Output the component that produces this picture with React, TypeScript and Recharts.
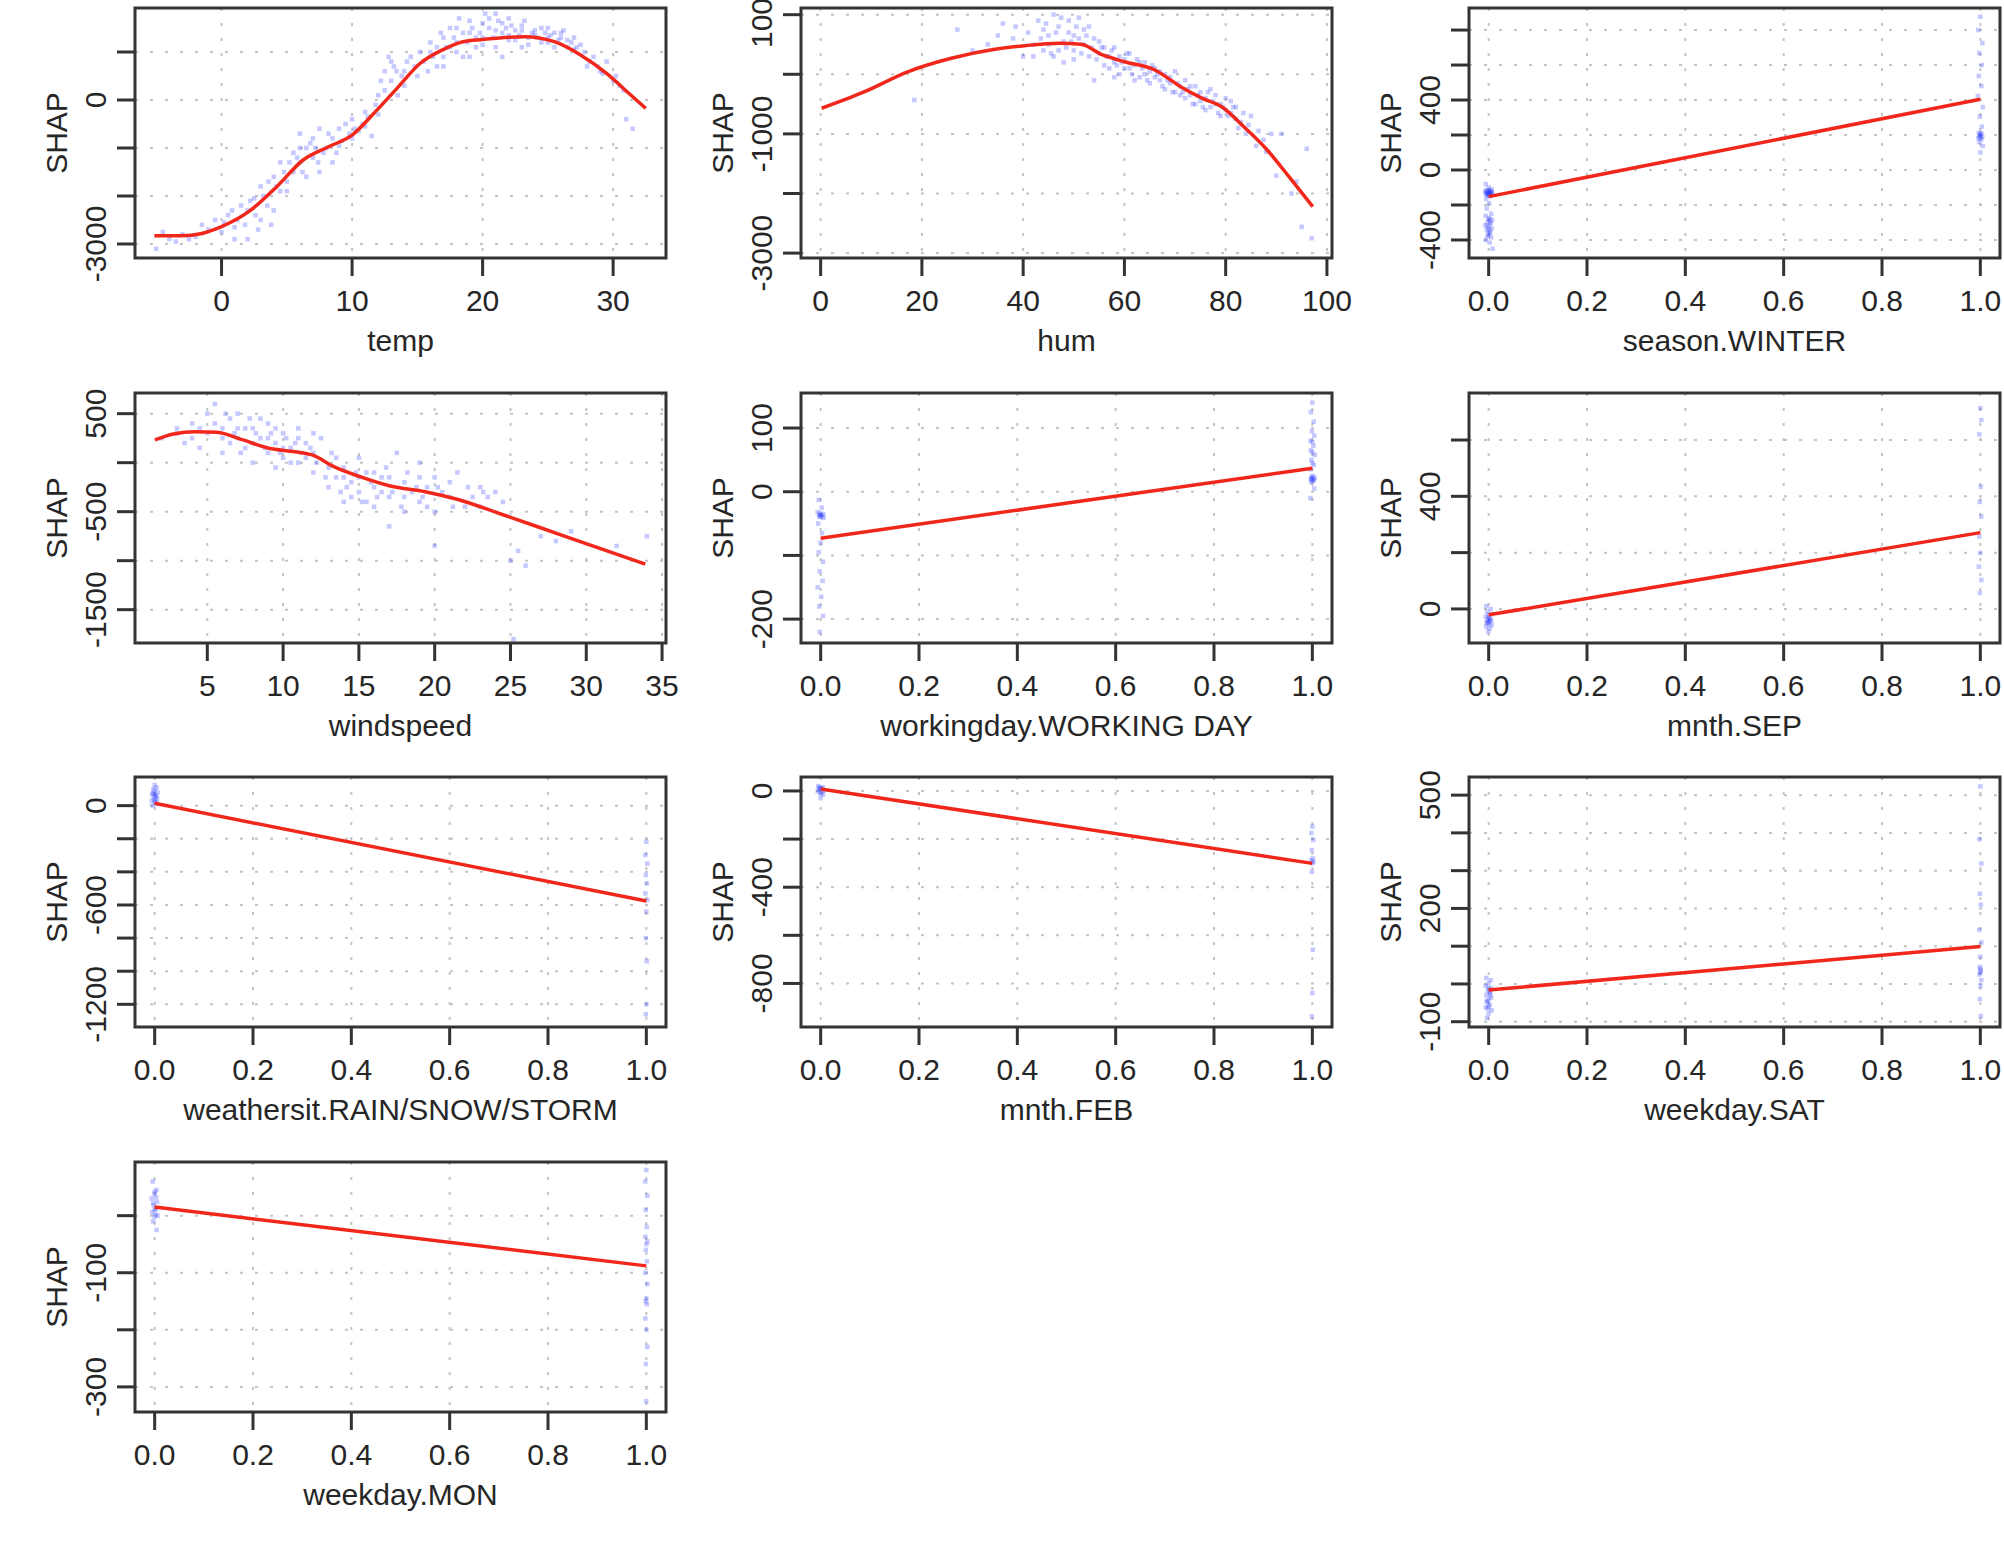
import { CartesianGrid, ComposedChart, ReferenceArea, Scatter, XAxis, YAxis } from 'recharts';

type Pt = [number, number];

// ---- temp ----
const tempXTicks = [0, 10, 20, 30];
const tempYTicks = [-3000, -2000, -1000, 0, 1000];
const tempYLabels = [-3000, 0];
const tempCurve: Pt[] = [
  [-5.15, -2830], [-3.1, -2830], [-1.5, -2780], [0, -2640], [2.26, -2290], [4.25, -1800],
  [6.25, -1250], [8.24, -970], [10, -730], [11.9, -210], [13.56, 280], [15.2, 760],
  [16.9, 1040], [18.5, 1215], [20, 1260], [23.2, 1320], [25.5, 1215], [27.5, 940],
  [29.5, 555], [31.2, 140], [32.5, -175],
];
const tempPoints: Pt[] = [
  [-5, -3100], [-4.5, -2750], [-4, -2900], [-3.5, -2950], [-3, -2800], [-2.5, -2900], [-2, -2850],
  [-1.5, -2600], [-1, -2700], [-0.5, -2500], [0, -2750], [0.2, -2550], [0.5, -2400], [0.8, -2300],
  [1, -2650], [1, -2900], [1.2, -2500], [1.5, -2200], [1.8, -2600], [2, -2900], [2, -2300],
  [2.2, -2100], [2.5, -2050], [2.6, -2400], [2.8, -2700], [3, -2500], [3, -1800], [3.2, -2000],
  [3.5, -2200], [3.6, -1700], [3.8, -2600], [4, -1600], [4, -2300], [4.2, -1800], [4.5, -1900],
  [4.5, -1300], [4.8, -1500], [5, -1700], [5, -1900], [5.2, -1300], [5.5, -1100], [5.5, -1500],
  [5.8, -1200], [6, -700], [6, -1300], [6, -1000], [6.2, -1500], [6.5, -1000], [6.5, -1600],
  [6.8, -900], [7, -800], [7, -1200], [7.2, -1000], [7.4, -1300], [7.5, -1500], [7.5, -600],
  [7.8, -1100], [8, -1000], [8.2, -700], [8.5, -800], [8.5, -1300], [8.8, -1100], [9, -600],
  [9, -950], [9.2, -850], [9.5, -500], [9.8, -700], [10, -800], [10, -400], [10.2, -600],
  [10.5, -650], [10.8, -500], [11, -250], [11, -550], [11.2, -350], [11.5, -750], [11.8, -100],
  [12, -300], [12, 100], [12.2, 400], [12.5, 600], [12.5, 200], [12.8, 900], [13, 400], [13, 800],
  [13.2, 700], [13.4, 600], [13.5, 100], [13.8, 500], [14, 600], [14, 300], [14.2, 800],
  [14.5, 900], [14.8, 700], [15, 500], [15.2, 1000], [15.5, 800], [15.8, 600], [16, 1000],
  [16, 1200], [16.2, 900], [16.5, 700], [16.5, 1100], [16.8, 1400], [17, 1300], [17, 900],
  [17, 700], [17.2, 1100], [17.5, 1100], [17.5, 1500], [17.8, 1300], [18, 1500], [18, 1200],
  [18, 1000], [18.2, 1700], [18.5, 900], [18.5, 1400], [18.8, 1200], [19, 1400], [19, 1650],
  [19, 900], [19.2, 1500], [19.5, 1100], [19.5, 1300], [19.8, 1400], [20, 1600], [20, 1300],
  [20, 1150], [20.2, 1800], [20.5, 1500], [20.5, 1700], [20.8, 1300], [21, 1800], [21, 1100],
  [21, 1450], [21.2, 1650], [21.5, 1400], [21.5, 1600], [21.5, 900], [21.8, 1500], [22, 1700],
  [22, 1250], [22, 1350], [22.2, 1550], [22.5, 1450], [22.5, 1250], [22.8, 1350], [23, 1100],
  [23, 1550], [23, 1450], [23.2, 1650], [23.5, 1300], [23.5, 1150], [23.8, 1400], [24, 1450],
  [24, 1350], [24.2, 1300], [24.5, 1200], [24.5, 1500], [24.8, 1400], [25, 1500], [25, 1300],
  [25, 1200], [25.2, 1350], [25.5, 1100], [25.5, 1400], [25.8, 1250], [26, 1400], [26, 1300],
  [26.2, 1450], [26.5, 1250], [26.5, 1100], [26.8, 1200], [27, 1050], [27, 1300], [27.2, 1100],
  [27.5, 1150], [27.8, 1000], [28, 700], [28.2, 800], [28.5, 900], [28.8, 700], [29, 600],
  [29.2, 550], [29.5, 800], [30, 400], [30.2, 500], [30.5, 300], [30.8, 200], [31, -400],
  [31.5, -600],
];

// ---- hum ----
const humXTicks = [0, 20, 40, 60, 80, 100];
const humYTicks = [-3000, -2000, -1000, 0, 1000];
const humYLabels = [-3000, -1000, 1000];
const humCurve: Pt[] = [
  [0.2, -570], [8.7, -292], [17.3, 44], [25.8, 268], [34.4, 419], [40.3, 480], [47.2, 520],
  [51.4, 503], [55.7, 324], [60, 211], [66, 72], [71.1, -208], [75.4, -403], [79.2, -544],
  [83.9, -906], [88.2, -1270], [92.5, -1718], [97.2, -2221],
];
const humPoints: Pt[] = [
  [18.5, -430], [27, 750], [30, 400], [33, 500], [35, 650], [36, 850], [38, 600], [38.5, 800],
  [40, 300], [41, 700], [42, 500], [42, 300], [43, 900], [43.5, 600], [44, 400], [44, 750],
  [44.5, 850], [45, 650], [45, 500], [45.5, 350], [46, 1000], [46, 300], [46.5, 700], [47, 800],
  [47, 400], [47.5, 950], [48, 550], [48, 200], [48.5, 450], [49, 900], [49, 700], [49.5, 550],
  [50, 650], [50, 400], [50, 250], [50.5, 800], [51, 950], [51, 600], [51.5, 350], [52, 500],
  [52, 750], [52.5, 650], [53, 300], [53, 800], [53.5, 450], [54, 600], [54, -100], [54.5, 250],
  [55, 350], [55, 550], [55.5, 450], [56, 450], [56, 150], [56.5, 300], [57, 300], [57, 100],
  [57.5, 400], [58, 200], [58, 450], [58, -50], [58.5, 150], [59, 0], [59, 300], [59.5, 200],
  [60, 250], [60, 100], [60.5, 350], [61, 100], [61, 350], [61.5, 0], [62, 150], [62, -100],
  [62.5, 250], [63, -50], [63, 200], [63.5, 100], [64, 200], [64, 0], [64.5, -100], [65, 50],
  [65, -150], [65.5, 150], [66, 100], [66, -50], [66.5, 0], [67, -100], [67, 50], [67.5, -200],
  [68, 0], [68, -250], [68.5, -100], [69, -150], [69, -50], [69.5, -300], [70, -300], [70, 50],
  [70.5, -150], [71, -200], [71, -350], [71.5, -300], [72, -400], [72, -100], [72.5, -250],
  [73, -350], [73, -200], [73.5, -500], [74, -500], [74, -200], [74.5, -350], [75, -300],
  [75, -450], [75.5, -550], [76, -600], [76, -400], [76.5, -300], [77, -250], [77, -550],
  [77.5, -450], [78, -500], [78, -350], [78.5, -650], [79, -700], [79, -500], [79.5, -550],
  [80, -400], [80, -600], [80.5, -700], [81, -650], [81, -450], [81.5, -550], [82, -550],
  [82, -750], [82.5, -900], [83, -800], [83.5, -650], [84, -1000], [84.5, -850], [85, -700],
  [86, -1200], [86.5, -950], [87.5, -1100], [88, -1300], [89, -1000], [90, -1700], [91, -1000],
  [93, -2000], [94, -1800], [95, -2560], [96, -1250], [97, -2750],
];

// ---- season.WINTER ----
const binXTicks = [0, 0.2, 0.4, 0.6, 0.8, 1];
const winterYTicks = [-400, -200, 0, 200, 400, 600, 800];
const winterYLabels = [-400, 0, 400];
const winterCurve: Pt[] = [[0, -152], [1, 404]];
const winterPoints: Pt[] = [
  [-0.006, -80], [0, -100], [0.006, -110], [-0.004, -115], [0.003, -120], [-0.007, -122],
  [0.007, -125], [0, -128], [-0.003, -130], [0.005, -132], [-0.006, -135], [0.002, -138],
  [0.006, -140], [-0.002, -145], [0.004, -150], [0, -120], [0.003, -125], [-0.003, -140],
  [0, -135], [0.004, -130], [-0.004, -128], [0, -145], [-0.005, -165], [0.001, -190],
  [-0.004, -220], [0.005, -250], [-0.006, -262], [0.002, -275], [0.007, -285], [-0.002, -295],
  [0.004, -305], [-0.007, -315], [0.001, -325], [0.006, -335], [-0.004, -345], [0.003, -355],
  [-0.001, -370], [0.005, -385], [-0.006, -400], [0.002, -415], [0, -280], [0.003, -300],
  [-0.003, -320], [0, -340], [0.002, -360], [-0.002, -380], [0.008, -450],
  [1.0, 876], [0.996, 800], [1.004, 726], [0.998, 669], [1.003, 600], [0.997, 537], [1.002, 480],
  [0.995, 423], [1.005, 360], [0.999, 305], [1.003, 248], [0.997, 212], [1.0, 200], [1.004, 190],
  [0.996, 182], [1.002, 175], [0.998, 160], [1.0, 205], [0.998, 195], [1.002, 210],
  [1.0, 185], [1.005, 137], [1.0, 100],
];

// ---- windspeed ----
const windXTicks = [5, 10, 15, 20, 25, 30, 35];
const windYTicks = [-1500, -1000, -500, 0, 500];
const windYLabels = [-1500, -500, 500];
const windCurve: Pt[] = [
  [1.54, 232], [2.77, 293], [4.2, 316], [5.63, 310], [7.35, 232], [9.06, 147], [10.78, 112],
  [11.92, 79], [13.35, -41], [15.07, -143], [17.07, -238], [19.36, -296], [21.65, -381],
  [24.22, -516], [27.08, -669], [29.94, -823], [33.89, -1034],
];
const windPoints: Pt[] = [
  [2, 250], [3, 350], [3, 300], [3.5, 200], [4, 400], [4, 250], [4.5, 150], [4.5, 350], [5, 500],
  [5, 300], [5.5, 600], [5.5, 400], [6, 350], [6, 100], [6, 250], [6.2, 500], [6.5, 450],
  [6.5, 200], [6.8, 300], [7, 250], [7, 500], [7, 350], [7.2, 100], [7.5, 150], [7.5, 350],
  [7.8, 450], [8, 350], [8, 0], [8, 200], [8.2, 300], [8.5, 250], [8.5, 450], [8.8, 150],
  [9, 400], [9, 100], [9, 250], [9.2, 300], [9.5, 200], [9.5, -50], [9.5, 350], [9.8, 100],
  [10, 300], [10, 50], [10, 150], [10.2, 250], [10.5, 150], [10.5, 0], [10.8, 200], [11, 350],
  [11, 0], [11, 250], [11.2, 100], [11.5, 200], [11.5, 50], [11.8, 150], [12, 100], [12, -100],
  [12, 300], [12.2, 0], [12.5, 250], [12.8, -150], [13, -50], [13, -250], [13.2, 100],
  [13.5, 50], [13.5, -150], [13.8, -300], [14, -150], [14, -400], [14, -50], [14.2, -250],
  [14.5, -200], [14.5, -350], [14.8, -100], [15, 50], [15, -300], [15, -150], [15.2, -400],
  [15.5, -100], [15.5, -400], [15.8, -200], [16, -250], [16, -450], [16, -100], [16.2, -350],
  [16.5, -150], [16.5, -300], [16.8, -50], [17, -350], [17, -650], [17, -150], [17.2, -300],
  [17.5, 100], [17.8, -450], [18, -200], [18, -500], [18, -350], [18.2, -100], [18.5, -300],
  [18.8, -250], [19, 0], [19, -400], [19, -150], [19.2, -350], [19.5, -250], [19.5, -450],
  [20, -150], [20, -500], [20, -850], [20.2, -250], [20.5, -300], [21, -350], [21, -200],
  [21.2, -450], [21.5, -100], [22, -450], [22.2, -250], [22.5, -350], [23, -250], [23, -450],
  [23.2, -300], [23.5, -350], [24, -300], [24.5, -400], [25, -1000], [25.2, -1800], [25.5, -900],
  [26, -1050], [27, -750], [28, -800], [29, -700], [32, -850], [34, -750],
];

// ---- workingday.WORKING DAY ----
const workYTicks = [-200, -100, 0, 100];
const workYLabels = [-200, 0, 100];
const workCurve: Pt[] = [[0, -73], [1, 37]];
const workPoints: Pt[] = [
  [-0.004, -13], [0.002, -25], [-0.006, -32], [0.005, -35], [0, -37], [-0.003, -39], [0.006, -41],
  [0, -34], [0.003, -38], [-0.003, -36], [0, -40], [-0.005, -50], [0.003, -65], [0, -80],
  [-0.004, -95], [0.005, -110], [-0.002, -125], [0.004, -140], [-0.006, -150], [0.001, -165],
  [-0.003, -180], [0.005, -195], [-0.002, -220],
  [0.996, -10], [1.004, 5], [0.998, 15], [1.003, 18], [0.997, 20], [1.005, 22], [1.0, 25],
  [1.0, 17], [1.002, 19], [0.998, 21], [1.0, 23], [0.996, 35], [1.003, 42], [0.998, 50],
  [1.005, 58], [0.997, 65], [1.002, 72], [0.996, 80], [1.004, 88], [0.999, 95], [1.0, 45],
  [1.0, 62], [1.0, 78], [1.003, 110], [0.997, 125], [1.0, 140],
];

// ---- mnth.SEP ----
const sepYTicks = [0, 200, 400, 600];
const sepYLabels = [0, 400];
const sepCurve: Pt[] = [[0, -21], [1, 271]];
const sepPoints: Pt[] = [
  [-0.005, 10], [0.004, 0], [-0.003, -10], [0.006, -18], [0, -22], [-0.006, -28], [0.003, -33],
  [-0.002, -38], [0.005, -43], [-0.004, -48], [0.001, -53], [0.006, -58], [-0.005, -63],
  [0, -30], [0.003, -40], [-0.003, -50], [0, -45], [0.002, -70], [-0.001, -80],
  [1.0, 713], [1.002, 671], [0.998, 620], [1.001, 434], [0.999, 380], [1.002, 328], [0.998, 257],
  [1.0, 199], [0.997, 150], [1.002, 103], [0.999, 57],
];

// ---- weathersit.RAIN/SNOW/STORM ----
const weatherYTicks = [-1200, -1000, -800, -600, -400, -200, 0];
const weatherYLabels = [-1200, -600, 0];
const weatherCurve: Pt[] = [[0, 14], [1, -576]];
const weatherPoints: Pt[] = [
  [-0.004, 0], [0.004, 10], [0, 20], [-0.006, 30], [0.005, 40], [-0.002, 50], [0.003, 60],
  [-0.005, 70], [0.006, 80], [0, 90], [-0.003, 100], [0.004, 110], [0, 125], [0, 35],
  [0.003, 55], [-0.003, 75], [0, 65], [0.002, 25],
  [1.0, -218], [0.998, -298], [1.002, -350], [0.999, -419], [1.001, -470], [0.998, -530],
  [1.002, -570], [1.0, -640], [0.999, -800], [1.001, -940], [1.0, -1200], [0.999, -1260],
];

// ---- mnth.FEB ----
const febYTicks = [-800, -600, -400, -200, 0];
const febYLabels = [-800, -400, 0];
const febCurve: Pt[] = [[0, 8], [1, -301]];
const febPoints: Pt[] = [
  [-0.005, 20], [0.004, 15], [0, 10], [-0.003, 5], [0.006, 2], [-0.006, -2], [0.002, -6],
  [-0.001, -10], [0.005, -15], [0, 12], [0.003, 8], [-0.003, 14], [0, -30],
  [1.0, -148], [0.998, -175], [1.002, -204], [0.999, -246], [1.001, -280], [0.998, -288],
  [1.002, -295], [1.0, -300], [0.999, -336], [1.001, -660], [1.0, -840], [0.999, -937],
];

// ---- weekday.SAT ----
const satYTicks = [-100, 0, 100, 200, 300, 400, 500];
const satYLabels = [-100, 200, 500];
const satCurve: Pt[] = [[0, -16], [1, 99]];
const satPoints: Pt[] = [
  [-0.005, 16], [0.004, 10], [0, 2], [-0.006, -5], [0.006, -12], [-0.002, -18], [0.003, -24],
  [-0.005, -30], [0.005, -36], [0, -42], [-0.004, -48], [0.002, -55], [-0.006, -62],
  [0.006, -70], [0, -78], [0, -10], [0.003, -30], [-0.003, -45], [0, -60], [0.002, -20],
  [-0.002, -65], [-0.003, -90],
  [1.0, 523], [0.998, 383], [1.002, 319], [0.999, 239], [1.001, 210], [0.998, 143], [1.002, 110],
  [1.0, 72], [0.999, 45], [1.001, 35], [0.998, 25], [1.002, 10], [1.0, 30], [1.0, 40],
  [1.0, -5], [0.999, -40], [1.001, -85],
];

// ---- weekday.MON ----
const monYTicks = [-300, -200, -100, 0];
const monYLabels = [-300, -100];
const monCurve: Pt[] = [[0, 15], [1, -88]];
const monPoints: Pt[] = [
  [-0.004, 60], [0.004, 45], [0, 38], [-0.006, 30], [0.005, 24], [-0.002, 18], [0.003, 12],
  [-0.005, 6], [0.006, 0], [0, -2], [0, 42], [0.003, 32], [-0.003, 22], [0, 10],
  [0.002, 2], [-0.003, -10], [0.004, -25],
  [1.0, 80], [0.998, 60], [1.002, 35], [0.999, 10], [1.001, -20], [0.998, -37], [1.002, -45],
  [1.0, -50], [0.999, -60], [1.001, -80], [0.998, -100], [1.002, -120], [1.0, -145],
  [0.999, -150], [1.001, -155], [0.998, -180], [1.0, -200], [1.002, -230], [0.999, -260],
  [1.0, -325],
];

const FONT = '"Liberation Sans", Arial, Helvetica, sans-serif';
const INK = '#262626';
const BOX_LEFT = [135, 801, 1469];
const BOX_TOP = [8, 393, 777, 1162];
const BOX_W = 531;
const BOX_H = 250;
const Y_AREA = 135;
const X_AREA = 110;
const TOP_PAD = 8;

const intFmt = (v: number) => String(v);
const decFmt = (v: number) => v.toFixed(1);
const BIN_X: [number, number] = [-0.04, 1.04];

const panels = [
  { name: 'temp', col: 0, row: 0, xDomain: [-6.63, 34.05], yDomain: [-3292, 1917], xTicks: tempXTicks, yTicks: tempYTicks, yLabels: tempYLabels, points: tempPoints, curve: tempCurve, fmt: intFmt },
  { name: 'hum', col: 1, row: 0, xDomain: [-3.88, 101.0], yDomain: [-3082, 1112], xTicks: humXTicks, yTicks: humYTicks, yLabels: humYLabels, points: humPoints, curve: humCurve, fmt: intFmt },
  { name: 'season.WINTER', col: 2, row: 0, xDomain: BIN_X, yDomain: [-503, 926], xTicks: binXTicks, yTicks: winterYTicks, yLabels: winterYLabels, points: winterPoints, curve: winterCurve, fmt: decFmt },
  { name: 'windspeed', col: 0, row: 1, xDomain: [0.23, 35.26], yDomain: [-1840, 711], xTicks: windXTicks, yTicks: windYTicks, yLabels: windYLabels, points: windPoints, curve: windCurve, fmt: intFmt },
  { name: 'workingday.WORKING DAY', col: 1, row: 1, xDomain: BIN_X, yDomain: [-237.5, 155], xTicks: binXTicks, yTicks: workYTicks, yLabels: workYLabels, points: workPoints, curve: workCurve, fmt: decFmt },
  { name: 'mnth.SEP', col: 2, row: 1, xDomain: BIN_X, yDomain: [-121, 767], xTicks: binXTicks, yTicks: sepYTicks, yLabels: sepYLabels, points: sepPoints, curve: sepCurve, fmt: decFmt },
  { name: 'weathersit.RAIN/SNOW/STORM', col: 0, row: 2, xDomain: BIN_X, yDomain: [-1337, 173], xTicks: binXTicks, yTicks: weatherYTicks, yLabels: weatherYLabels, points: weatherPoints, curve: weatherCurve, fmt: decFmt },
  { name: 'mnth.FEB', col: 1, row: 2, xDomain: BIN_X, yDomain: [-981, 58], xTicks: binXTicks, yTicks: febYTicks, yLabels: febYLabels, points: febPoints, curve: febCurve, fmt: decFmt },
  { name: 'weekday.SAT', col: 2, row: 2, xDomain: BIN_X, yDomain: [-114, 548], xTicks: binXTicks, yTicks: satYTicks, yLabels: satYLabels, points: satPoints, curve: satCurve, fmt: decFmt },
  { name: 'weekday.MON', col: 0, row: 3, xDomain: BIN_X, yDomain: [-344, 94], xTicks: binXTicks, yTicks: monYTicks, yLabels: monYLabels, points: monPoints, curve: monCurve, fmt: decFmt },
];

const toXY = (pts: Pt[]) => pts.map(([x, y]) => ({ x, y }));

const Dot = (props: any) => {
  const { cx, cy } = props;
  if (cx == null || cy == null) return <g />;
  return <rect x={cx - 2.25} y={cy - 2.25} width={4.5} height={4.5} fill="#2f3dff" fillOpacity={0.28} />;
};

const Blank = () => <g />;

function Panel({ p }: any) {
  const rightPad = p.col === 2 ? 4 : 24;
  const width = Y_AREA + BOX_W + rightPad;
  const height = TOP_PAD + BOX_H + X_AREA;

  const xTick = (t: any) => (
    <text x={t.x} y={t.y} dy={35} textAnchor="middle" fontFamily={FONT} fontSize={30} fill={INK}>
      {p.fmt(t.payload.value)}
    </text>
  );
  const yTick = (t: any) =>
    p.yLabels.includes(t.payload.value) ? (
      <text transform={`translate(${t.x - 11},${t.y}) rotate(-90)`} textAnchor="middle" fontFamily={FONT} fontSize={30} fill={INK}>
        {t.payload.value}
      </text>
    ) : (
      <g />
    );
  const xTitle = (l: any) => {
    const vb = l.viewBox || {};
    return (
      <text x={vb.x + vb.width / 2} y={vb.y + 93} textAnchor="middle" fontFamily={FONT} fontSize={30} fill={INK}>
        {p.name}
      </text>
    );
  };
  const yTitle = (l: any) => {
    const vb = l.viewBox || {};
    return (
      <text transform={`translate(${vb.x + vb.width - 68},${vb.y + vb.height / 2}) rotate(-90)`} textAnchor="middle" fontFamily={FONT} fontSize={30} fill={INK}>
        SHAP
      </text>
    );
  };

  return (
    <div style={{ position: 'absolute', left: BOX_LEFT[p.col] - Y_AREA, top: BOX_TOP[p.row] - TOP_PAD }}>
      <ComposedChart width={width} height={height} margin={{ top: TOP_PAD, right: rightPad, bottom: 0, left: 0 }}>
        <CartesianGrid stroke="#c4c4c4" strokeWidth={2} strokeDasharray="3 12" />
        <XAxis
          type="number"
          dataKey="x"
          domain={p.xDomain}
          allowDataOverflow
          ticks={p.xTicks}
          interval={0}
          height={X_AREA}
          axisLine={false}
          tickSize={18}
          tickMargin={0}
          tickLine={{ stroke: '#333', strokeWidth: 3 }}
          tick={xTick}
          label={xTitle}
        />
        <YAxis
          type="number"
          dataKey="y"
          domain={p.yDomain}
          allowDataOverflow
          ticks={p.yTicks}
          interval={0}
          width={Y_AREA}
          axisLine={false}
          tickSize={18}
          tickMargin={0}
          tickLine={{ stroke: '#333', strokeWidth: 3 }}
          tick={yTick}
          label={yTitle}
        />
        <Scatter data={toXY(p.points)} shape={Dot} isAnimationActive={false} />
        <Scatter
          data={toXY(p.curve)}
          shape={Blank}
          line={{ stroke: '#f2271c', strokeWidth: 3.5 }}
          lineJointType="monotoneX"
          isAnimationActive={false}
        />
        <ReferenceArea
          x1={p.xDomain[0]}
          x2={p.xDomain[1]}
          y1={p.yDomain[0]}
          y2={p.yDomain[1]}
          fill="none"
          stroke="#333"
          strokeWidth={3}
          ifOverflow="visible"
        />
      </ComposedChart>
    </div>
  );
}

export default function App() {
  return (
    <div style={{ position: 'absolute', left: 0, top: 0, width: 2004, height: 1546, background: '#fff', overflow: 'hidden' }}>
      {panels.map((p) => (
        <Panel key={p.name} p={p} />
      ))}
    </div>
  );
}
